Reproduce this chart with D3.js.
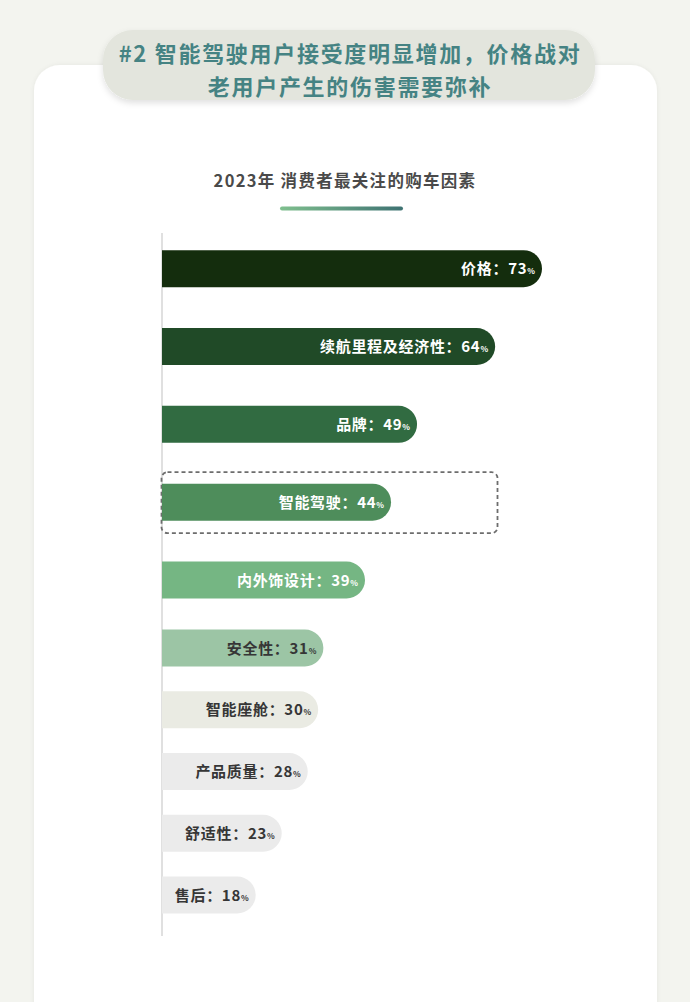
<!DOCTYPE html>
<html>
<head>
<meta charset="utf-8">
<script src="https://cdn.jsdelivr.net/npm/d3@7"></script>
<style>
  html, body { margin: 0; padding: 0; background: #f3f4ef; }
  svg { display: block; }
  text { font-family: "Noto Sans CJK SC", "Noto Sans", sans-serif; }
</style>
</head>
<body>
<svg id="chart" width="690" height="1002"></svg>
<script>
// ---- data ----
const titleLines = ["#2 智能驾驶用户接受度明显增加，价格战对", "老用户产生的伤害需要弥补"];
const chartTitle = "2023年 消费者最关注的购车因素";
const categories = ["价格", "续航里程及经济性", "品牌", "智能驾驶", "内外饰设计", "安全性", "智能座舱", "产品质量", "舒适性", "售后"];
const values = [73, 64, 49, 44, 39, 31, 30, 28, 23, 18];
const highlighted = ["智能驾驶"];

// ---- styles ----
const barColors = ["#142d0d", "#204a27", "#316b41", "#4e8d5b", "#75b683", "#9cc5a5", "#eaebe3", "#ebebeb", "#ebebeb", "#ebebeb"];
const labelColors = ["#ffffff", "#ffffff", "#ffffff", "#ffffff", "#ffffff", "#363636", "#363636", "#363636", "#363636", "#363636"];

const W = 690, H = 1002;
const svg = d3.select("#chart");
const defs = svg.append("defs");

const shadow = defs.append("filter").attr("id", "shadow").attr("x", "-20%").attr("y", "-40%").attr("width", "140%").attr("height", "180%");
shadow.append("feDropShadow").attr("dx", 0).attr("dy", 3).attr("stdDeviation", 3).attr("flood-color", "#000").attr("flood-opacity", 0.12);
const cardShadow = defs.append("filter").attr("id", "cardShadow").attr("x", "-10%").attr("y", "-10%").attr("width", "120%").attr("height", "120%");
cardShadow.append("feDropShadow").attr("dx", 0).attr("dy", 0).attr("stdDeviation", 2).attr("flood-color", "#000").attr("flood-opacity", 0.06);

const grad = defs.append("linearGradient").attr("id", "uline").attr("x1", "0%").attr("x2", "100%");
grad.append("stop").attr("offset", "0%").attr("stop-color", "#7fbf8e");
grad.append("stop").attr("offset", "100%").attr("stop-color", "#3e7272");

// background
svg.append("rect").attr("width", W).attr("height", H).attr("fill", "#f3f4ef");

// card
svg.append("rect").attr("x", 34).attr("y", 65).attr("width", 623).attr("height", 1000)
  .attr("rx", 26).attr("fill", "#ffffff").attr("filter", "url(#cardShadow)");

// title pill
svg.append("rect").attr("x", 103).attr("y", 30).attr("width", 492).attr("height", 70)
  .attr("rx", 30).attr("fill", "#e3e5dd").attr("filter", "url(#shadow)");
svg.selectAll("text.title").data(titleLines).join("text")
  .attr("class", "title")
  .attr("x", 350).attr("y", (d, i) => 62 + i * 33)
  .attr("text-anchor", "middle")
  .attr("font-size", 22).attr("font-weight", 700)
  .attr("letter-spacing", 1.7)
  .attr("fill", "#458383")
  .text(d => d);

// chart title
svg.append("text").attr("x", 345).attr("y", 187).attr("text-anchor", "middle")
  .attr("font-size", 16.5).attr("font-weight", 700).attr("fill", "#4a4a4a")
  .attr("letter-spacing", 1.3)
  .text(chartTitle);
svg.append("rect").attr("x", 280).attr("y", 206.5).attr("width", 123).attr("height", 4)
  .attr("rx", 2).attr("fill", "url(#uline)");

// scales
const x0 = 162;
const x = d3.scaleLinear().domain([0, 73]).range([0, 380]);
const idx = d3.scaleLinear().domain([0, 4, 5, 9]).range([268.7, 580, 648, 895]);
const barH = 37;

// axis line
svg.append("line").attr("x1", x0).attr("x2", x0).attr("y1", 233).attr("y2", 936)
  .attr("stroke", "#d6d6d6").attr("stroke-width", 1.5);

const data = categories.map((c, i) => ({ cat: c, val: values[i], i }));

function barPath(d) {
  const w = x(d.val), r = barH / 2;
  const yc = idx(d.i), top = yc - r;
  const p = d3.path();
  p.moveTo(x0, top);
  p.lineTo(x0 + w - r, top);
  p.arc(x0 + w - r, yc, r, -Math.PI / 2, Math.PI / 2);
  p.lineTo(x0, top + barH);
  p.closePath();
  return p.toString();
}

// highlight dashed box
data.filter(d => highlighted.includes(d.cat)).forEach(d => {
  svg.append("rect").attr("x", x0 - 0.5).attr("y", idx(d.i) - 30)
    .attr("width", 336).attr("height", 61).attr("rx", 6)
    .attr("fill", "none").attr("stroke", "#6d6d6d").attr("stroke-width", 1.8)
    .attr("stroke-dasharray", "4,3");
});

svg.selectAll("path.bar").data(data).join("path")
  .attr("class", "bar")
  .attr("d", barPath)
  .attr("fill", d => barColors[d.i]);

const labels = svg.selectAll("text.lab").data(data).join("text")
  .attr("class", "lab")
  .attr("x", d => x0 + x(d.val) - 7)
  .attr("y", d => idx(d.i) + 5.5)
  .attr("text-anchor", "end")
  .attr("font-weight", 700)
  .attr("letter-spacing", 0.7)
  .attr("fill", d => labelColors[d.i]);
labels.append("tspan").attr("font-size", 15).text(d => d.cat + "：" + d.val);
labels.append("tspan").attr("font-size", 8).attr("letter-spacing", 0).text("%");
</script>
</body>
</html>
